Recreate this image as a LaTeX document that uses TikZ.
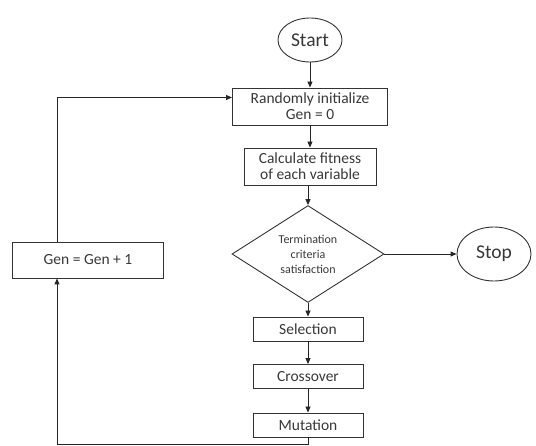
\documentclass[tikz,border=0pt]{standalone}
\usepackage{fontspec}
\setmainfont{Carlito}
\usetikzlibrary{shapes.geometric,arrows.meta}
\begin{document}
\begin{tikzpicture}[x=1pt,y=-1pt,
  box/.style={draw=black!80, line width=0.9pt, font=\fontsize{15.5}{16}\selectfont, text=black!78, align=center, inner sep=0pt},
  termin/.style={ellipse, draw=black!80, line width=0.9pt, inner sep=0pt, text=black!78, font=\fontsize{19.5}{21}\selectfont},
  arr/.style={-{Triangle[length=6pt,width=5pt]}, line width=0.9pt, draw=black!85},
  ln/.style={line width=0.9pt, draw=black!85}]
\useasboundingbox (0,0) rectangle (536,446);
\node[termin, minimum width=64pt, minimum height=44pt] (start) at (310,40) {Start};
\node[box, minimum width=155pt, minimum height=37pt] (init) at (310,106.5) {Randomly initialize\\Gen = 0};
\node[box, minimum width=132pt, minimum height=37pt] (fit) at (310,166.5) {Calculate fitness\\of each variable};
\node[diamond, draw=black!80, line width=0.9pt, minimum width=152pt, minimum height=92pt, inner sep=0pt, text=black!78, font=\fontsize{12}{15}\selectfont, align=center] (crit) at (308,254) {Termination\\criteria\\satisfaction};
\node[termin, minimum width=74pt, minimum height=54pt] (stop) at (494,254) {Stop};
\node[box, minimum width=151pt, minimum height=36pt] (gen) at (88,260) {Gen = Gen + 1};
\node[box, minimum width=110pt, minimum height=24pt] (sel) at (308,329) {Selection};
\node[box, minimum width=110pt, minimum height=24pt] (cross) at (308,376.5) {Crossover};
\node[box, minimum width=110pt, minimum height=24pt] (mut) at (308,425) {Mutation};
\draw[arr] (start) -- (init);
\draw[arr] (init.south -| fit.north) -- (fit);
\draw[arr] (fit.south -| crit.north) -- (crit);
\draw[arr] (crit) -- (stop);
\draw[arr] (crit) -- (sel);
\draw[arr] (sel) -- (cross);
\draw[arr] (cross) -- (mut);
\draw[arr] ([xshift=-31pt]gen.north) |- ([yshift=9pt]init.west);
\draw[arr] (mut.south) -- ++(0,7) -| ([xshift=-31pt]gen.south);
\end{tikzpicture}
\end{document}
